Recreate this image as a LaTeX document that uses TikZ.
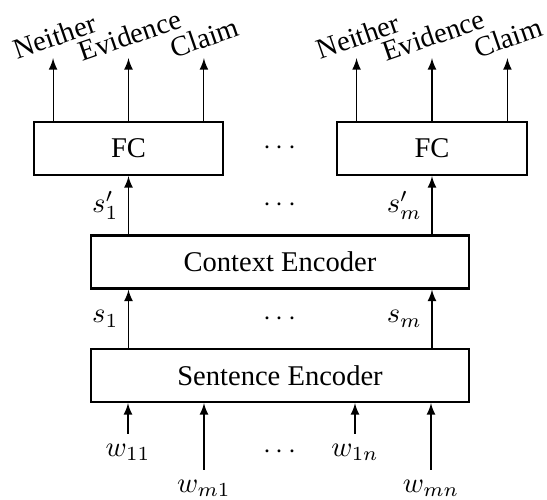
\documentclass[tikz,border=0pt]{standalone}
\usepackage{fontspec}
\setmainfont{Liberation Serif}
\usetikzlibrary{positioning}
\tikzset{
  block/.style={draw, thick, minimum height=18.5pt, inner sep=0pt},
  wide/.style={block, minimum width=132.3pt},
  fcbox/.style={block, minimum width=66.4pt},
  cls/.style={rotate=19, inner sep=1pt},
}
\begin{document}
\begin{tikzpicture}[x=0.35pt, y=-0.35pt, >=latex]
  \useasboundingbox (0,0) rectangle (547,500);
  \node[wide] (sent) at (280,375.5) {Sentence Encoder};
  \node[wide] (ctx) at (280,262) {Context Encoder};
  \node[fcbox] (fc1) at (128.5,148.5) {FC};
  \node[fcbox] (fc2) at (432,148.5) {FC};
  % class outputs
  \foreach \f in {fc1,fc2}{
    \coordinate (\f n) at ([shift={(-26.4pt,22pt)}]\f.north);
    \coordinate (\f e) at ([shift={(0pt,22pt)}]\f.north);
    \coordinate (\f c) at ([shift={(26.4pt,22pt)}]\f.north);
    \node[cls] (\f nl) at ([shift={(0.5pt,7.6pt)}]\f n) {Neither};
    \node[cls] (\f el) at ([shift={(0.5pt,8pt)}]\f e) {Evidence};
    \node[cls] (\f cl) at ([shift={(0.3pt,7.2pt)}]\f c) {Claim};
    \draw[->] (\f n |- \f.north) -- (\f n);
    \draw[->] (\f e |- \f.north) -- (\f e);
    \draw[->] (\f c |- \f.north) -- (\f c);
  }
  % sentence vectors
  \draw[->] (fc1.south |- ctx.north) -- node[left] (s1p) {$s'_1$} (fc1.south);
  \draw[->] (fc2.south |- ctx.north) -- node[left] (smp) {$s'_m$} (fc2.south);
  \draw[->] (fc1.south |- sent.north) -- node[left] (s1) {$s_1$} (fc1.south |- ctx.south);
  \draw[->] (fc2.south |- sent.north) -- node[left] (sm) {$s_m$} (fc2.south |- ctx.south);
  % words
  \node (w11) at (128,452) {$w_{11}$};
  \node (wm1) at (204,488) {$w_{m1}$};
  \node (w1n) at (355,452) {$w_{1n}$};
  \node (wmn) at (431,488) {$w_{mn}$};
  \foreach \w in {w11,wm1,w1n,wmn}
    \draw[->] (\w.north) -- (\w |- sent.south);
  % dots
  \node (dots1) at (sent |- fc1) {$\cdots$};
  \node (dots2) at (sent |- s1p) {$\cdots$};
  \node (dots3) at (sent |- s1) {$\cdots$};
  \node (dots4) at (sent |- w11) {$\cdots$};
\end{tikzpicture}
\end{document}
